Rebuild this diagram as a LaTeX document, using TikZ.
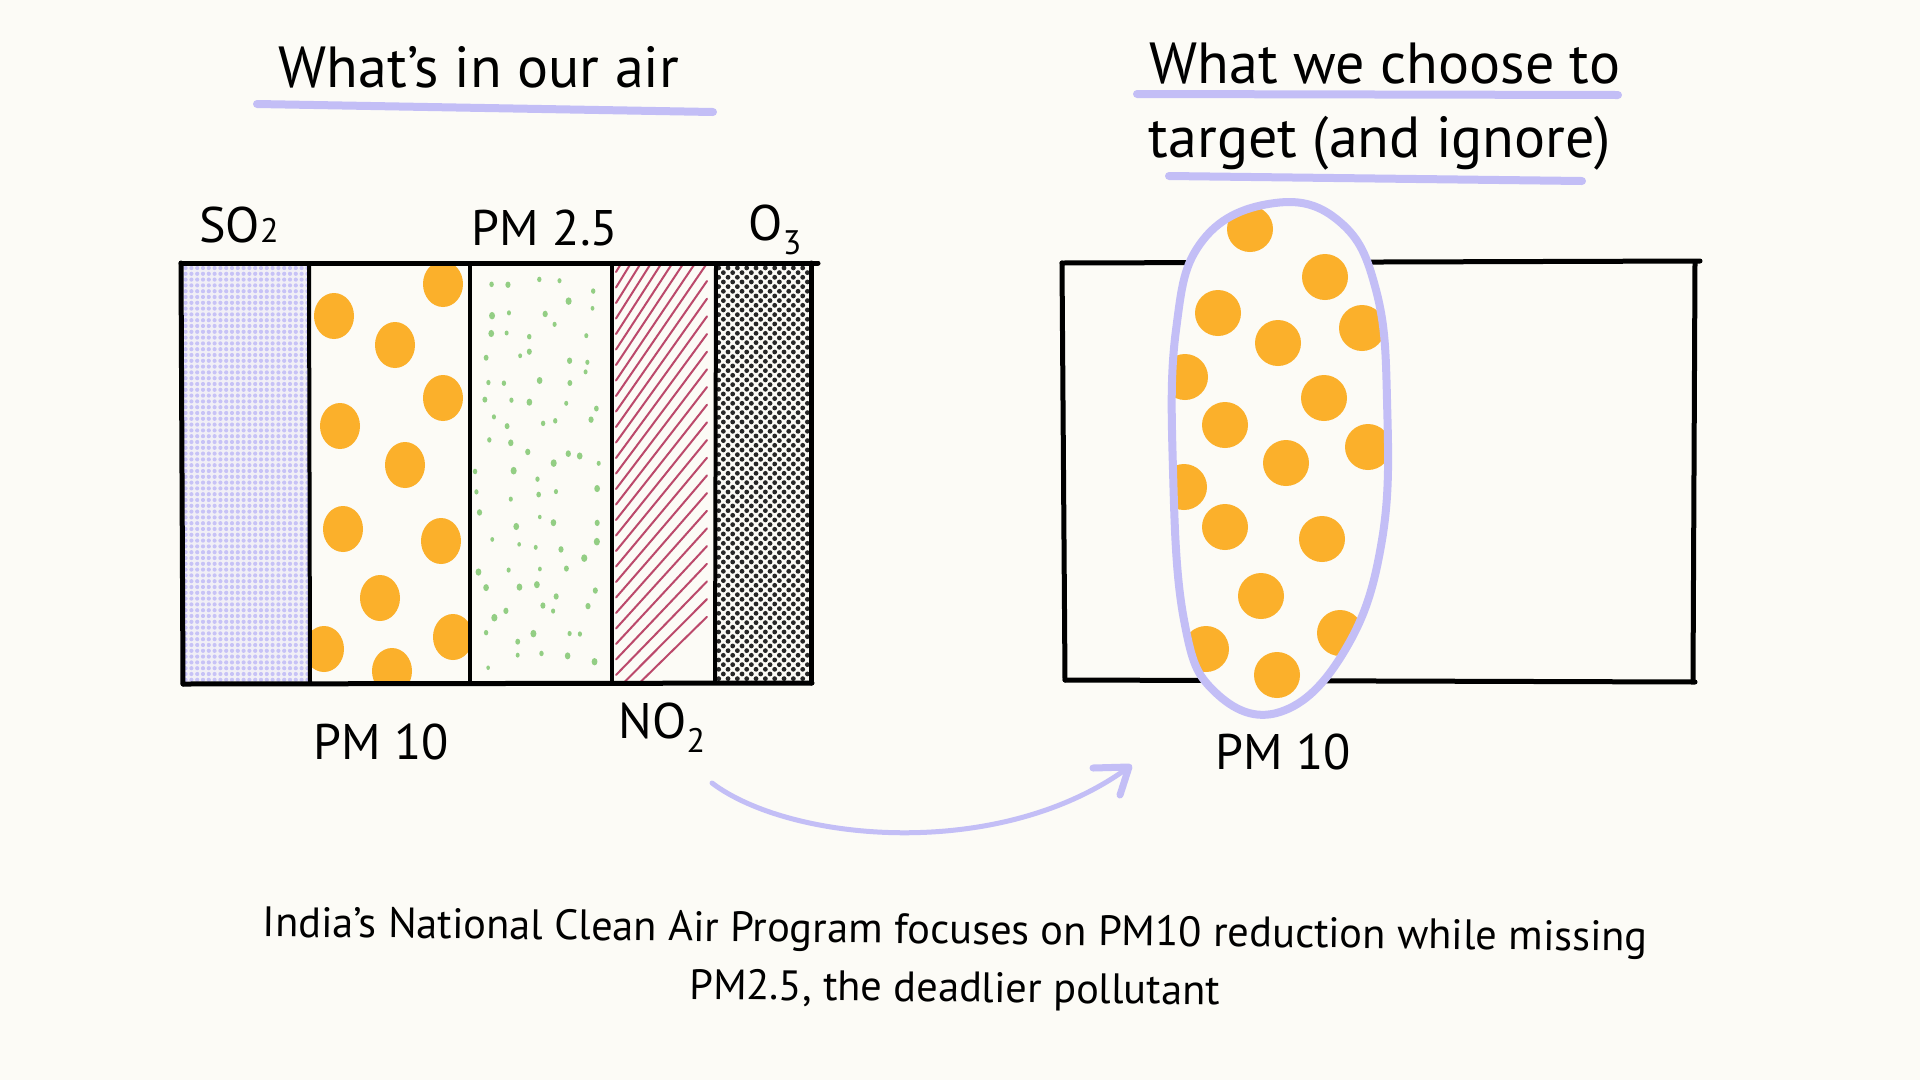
\documentclass[tikz,border=0pt]{standalone}
\usepackage{fontspec}
\setmainfont{PT Sans}
\usetikzlibrary{patterns.meta}
\definecolor{bg}{HTML}{FCFBF6}
\definecolor{lav}{HTML}{C3BEF6}
\definecolor{lavdot}{HTML}{C9C4F6}
\definecolor{orng}{HTML}{FBB02B}
\definecolor{grn}{HTML}{93CE84}
\definecolor{crim}{HTML}{B5365C}
\newcommand{\smallsub}[1]{{\fontsize{34}{34}\selectfont #1}}
\newcommand{\lowsub}[1]{\raisebox{-0.28em}{\fontsize{34}{34}\selectfont #1}}
\begin{document}
\begin{tikzpicture}[x=1pt,y=-1pt,
  title/.style={anchor=base,inner sep=0pt,font=\fontsize{58}{64}\selectfont},
  lbl/.style={anchor=base,inner sep=0pt,font=\fontsize{50}{56}\selectfont},
  uline/.style={draw=lav,line width=8pt,line cap=round},
  boxline/.style={draw=black,line width=5pt,line cap=round},
  divline/.style={draw=black,line width=4pt},
  odot/.style={fill=orng},
  arrowline/.style={draw=lav,line width=5pt,line cap=round,line join=round}]
\fill[bg] (0,0) rectangle (1920,1080);
\useasboundingbox (0,0) rectangle (1920,1080);

% ---------- titles ----------
\node[title] (t1) at (479,87) {What's in our air};
\draw[uline] (257,104) -- (713,112);
\node[title] (t2a) at (1385,83) {What we choose to};
\node[title] (t2b) at (1380,157) {target (and ignore)};
\draw[uline] (1137,94) -- (1618,95);
\draw[uline] (1169,176) -- (1582,181);

% ---------- left box columns ----------
% SO2
\fill[pattern={Dots[radius=2.1pt,distance=5.8pt]},pattern color=lavdot] (183,265) rectangle (309,682);
\fill[lav,opacity=0.18] (183,265) rectangle (309,682);
% PM10
\begin{scope}
\clip (309,265) rectangle (470,682);
\foreach \px/\py in {443/284,334/316,395/345,443/398,340/426,405/465,343/529,441/541,380/598,324/649,453/637,392/671}
  \fill[odot] (\px,\py) ellipse [x radius=20, y radius=23];
\end{scope}
% PM2.5 green specks (jittered grid)
\begin{scope}
\clip (472,268) rectangle (610,680);
\pgfmathsetseed{11}
\foreach \r in {0,...,16}{
  \foreach \c in {0,...,4}{
    \pgfmathsetmacro\gx{485+\c*26+rand*10}
    \pgfmathsetmacro\gy{284+\r*23.5+rand*9}
    \pgfmathsetmacro\gr{1.8+rnd*1.3}
    \fill[grn] (\gx,\gy) ellipse[x radius=\gr, y radius=\gr*1.25];
  }
}
\end{scope}
% NO2 diagonal lines
\begin{scope}
\clip (614,265) rectangle (714,680);
\foreach \i in {-10,...,28}{
  \pgfmathsetmacro\yl{272+\i*15.5}
  \pgfmathsetmacro\hh{150-0.14*(\yl-272)}
  \draw[crim,line width=2pt,opacity=0.9,line cap=round] (616,\yl) -- (707,\yl-\hh);
}
\end{scope}
% O3
\fill[pattern={Dots[radius=2.4pt,distance=6.6pt,angle=45]},pattern color=black!85] (716,265) rectangle (811,682);

% box lines
\draw[boxline] (181,263) -- (818,263);
\draw[boxline] (181,263) -- (183,684);
\draw[boxline] (183,684) -- (812,683);
\draw[boxline] (811,263) -- (811,683);
\draw[divline] (309,265) -- (310,682);
\draw[divline] (470,265) -- (470,682);
\draw[divline] (612,265) -- (612,682);
\draw[divline] (716,265) -- (715,682);

% labels left
\node[lbl] (so2) at (239,242) {SO\smallsub{2}};
\node[lbl] (pm25) at (545,245) {PM 2.5};
\node[lbl] (o3) at (775,240) {O\lowsub{3}};
\node[lbl] (pm10a) at (381,759) {PM 10};
\node[lbl] (no2) at (662,738) {NO\lowsub{2}};

% ---------- right box ----------
\draw[boxline] (1062,263) -- (1700,261);
\draw[boxline] (1062,263) -- (1065,680);
\draw[boxline] (1065,680) -- (1695,682);
\draw[boxline] (1695,262) -- (1693,681);

\path[fill=bg] plot[smooth cycle,tension=0.7] coordinates {(1275,203) (1340,222) (1376,290) (1387,400) (1382,540) (1345,650) (1280,712) (1215,692) (1184,620) (1173,470) (1176,330) (1203,240)};
\begin{scope}
\clip plot[smooth cycle,tension=0.7] coordinates {(1275,203) (1340,222) (1376,290) (1387,400) (1382,540) (1345,650) (1280,712) (1215,692) (1184,620) (1173,470) (1176,330) (1203,240)};
\foreach \px/\py in {1250/229,1325/277,1218/313,1278/343,1362/328,1185/377,1324/398,1225/425,1286/463,1368/447,1184/487,1225/527,1322/539,1261/596,1206/649,1340/633,1277/675}
  \fill[odot] (\px,\py) circle[radius=23];
\end{scope}
\draw[lav,line width=8pt] plot[smooth cycle,tension=0.7] coordinates {(1275,203) (1340,222) (1376,290) (1387,400) (1382,540) (1345,650) (1280,712) (1215,692) (1184,620) (1173,470) (1176,330) (1203,240)};

\node[lbl] (pm10b) at (1283,769) {PM 10};

% ---------- arrow ----------
\coordinate (as) at (712,783);
\coordinate (ae) at (1129,767);
\coordinate (ah1) at (1093,768);
\coordinate (ah2) at (1120,795);
\draw[arrowline] (as) .. controls (790,842) and (1000,862) .. (ae);
\draw[arrowline,line width=7pt] (ah1) -- (ae) -- (ah2);

% ---------- caption ----------
\node[align=center,inner sep=0pt,rotate=-0.6,font=\fontsize{42.5}{58}\selectfont] (cap) at (955,962)
  {India's National Clean Air Program focuses on PM10 reduction while missing\\PM2.5, the deadlier pollutant};
\end{tikzpicture}
\end{document}
